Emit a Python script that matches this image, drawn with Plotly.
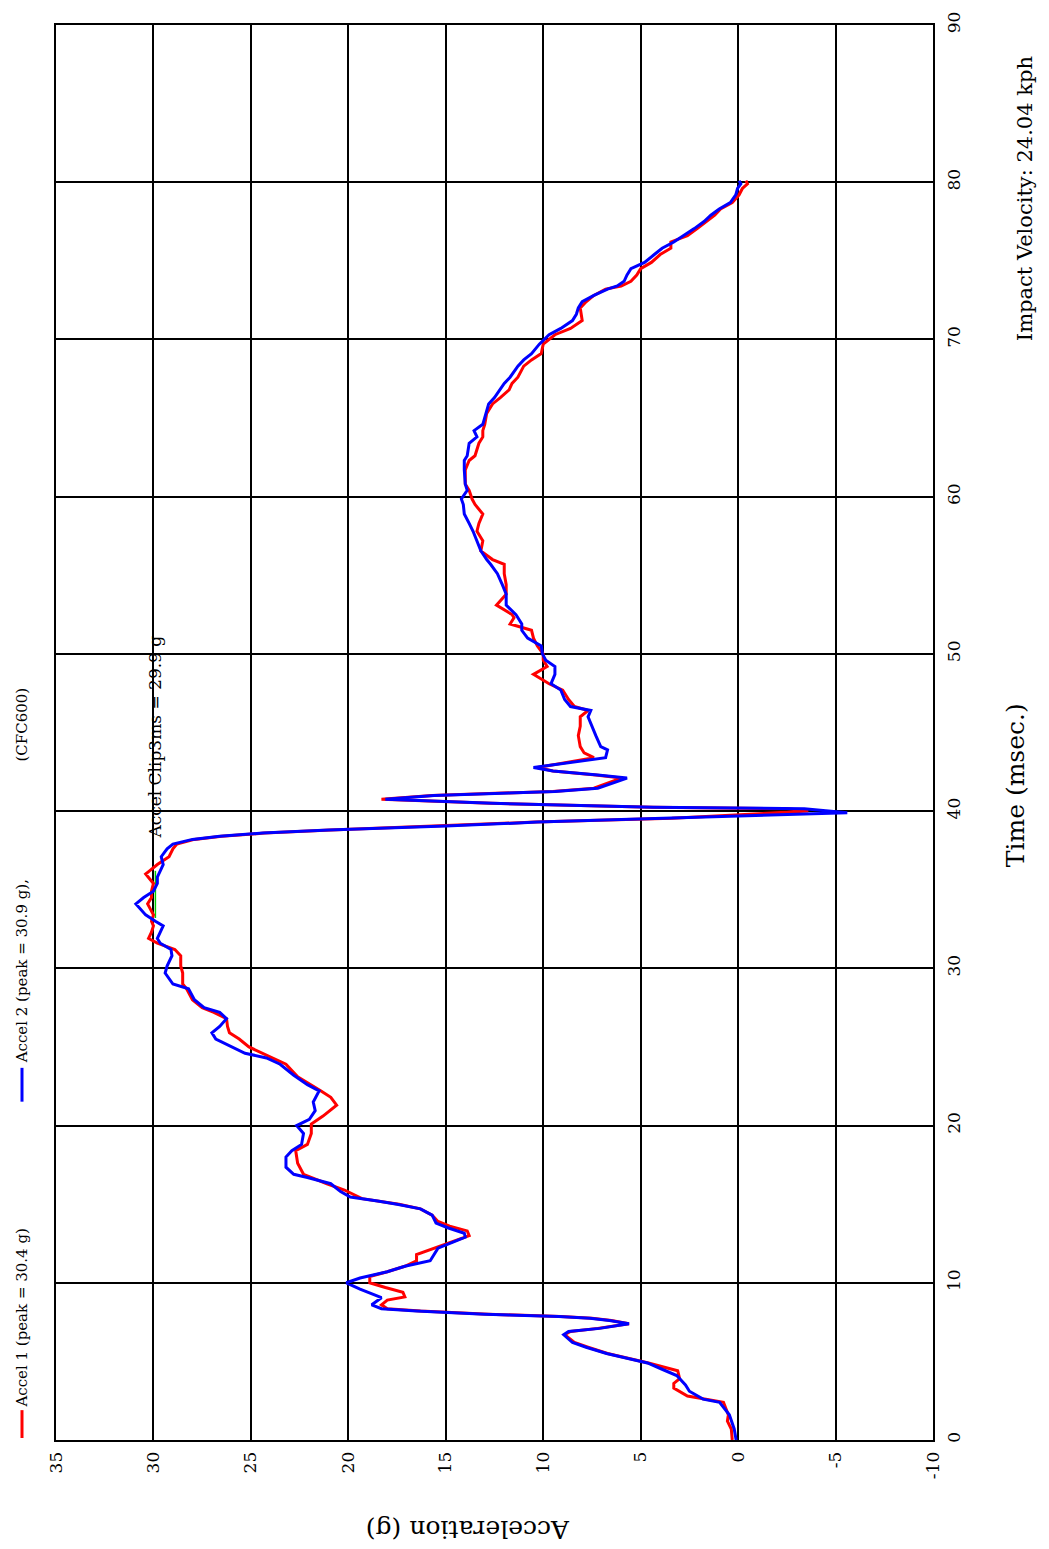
import plotly.graph_objects as go

# ---- data (time in msec, acceleration in g) ----
accel2_time = [0.0, 0.7, 1.6, 2.4, 2.6, 3.1, 3.5, 4.1, 4.5, 4.9, 5.2, 5.5, 5.9, 6.2, 6.7, 6.9, 7.1, 7.4, 7.6, 7.75,
               7.85, 8.0, 8.2, 8.35, 8.6, 9.05, 9.6, 10.0, 10.3, 10.7, 11.05, 11.4, 11.8, 12.2, 12.6, 12.9, 13.15,
               13.5, 13.8, 14.3, 14.7, 15.0, 15.2, 15.45, 15.8, 16.3, 16.7, 16.9, 17.35, 18.0, 18.4, 18.8, 19.5,
               20.0, 20.4, 20.95, 21.5, 22.2, 22.6, 23.2, 23.9, 24.3, 24.6, 25.1, 25.5, 25.9, 26.3, 26.8, 27.2,
               27.5, 28.0, 28.7, 29.0, 29.7, 30.15, 30.8, 31.2, 31.6, 31.9, 32.3, 32.7, 33.0, 33.4, 34.1, 34.5,
               34.9, 35.4, 35.8, 36.2, 36.6, 37.1, 37.6, 37.9, 38.2, 38.4, 38.6, 38.8, 39.05, 39.3, 39.55, 39.7,
               39.9, 40.15, 40.25, 40.5, 40.7, 40.76, 41.0, 41.25, 41.46, 42.1, 42.3, 42.55, 42.77, 43.1, 43.4,
               43.9, 44.1, 44.8, 45.4, 46.0, 46.4, 46.65, 47.1, 47.7, 48.1, 48.7, 49.2, 49.6, 50.0, 50.5, 51.0,
               51.5, 51.9, 52.5, 53.1, 53.8, 54.4, 55.1, 55.7, 56.0, 56.55, 57.2, 57.8, 58.3, 58.9, 59.5, 59.85,
               60.4, 60.8, 61.7, 62.3, 62.6, 63.4, 63.8, 64.2, 64.6, 65.3, 65.9, 66.3, 66.8, 67.2, 67.6, 68.3,
               68.7, 69.1, 69.7, 70.3, 70.7, 71.2, 71.6, 72.0, 72.4, 72.8, 73.2, 73.4, 73.7, 74.1, 74.5, 74.9,
               75.4, 75.8, 76.2, 76.6, 77.05, 77.5, 77.9, 78.3, 78.7, 79.2, 79.6, 79.9, 80.1]
accel2_g = [0.1, 0.2, 0.45, 0.95, 1.8, 2.5, 2.7, 3.15, 3.9, 4.65, 5.7, 6.75, 7.8, 8.5, 8.95, 8.7, 7.1, 5.6, 6.6, 7.6,
            9.2, 13.0, 16.5, 18.3, 18.8, 18.3, 19.4, 20.1, 19.4, 18.0, 17.1, 15.8, 15.6, 15.4, 14.6, 14.0, 14.05,
            14.9, 15.5, 15.7, 16.3, 17.5, 18.5, 19.9, 20.4, 20.9, 22.1, 22.8, 23.2, 23.2, 22.9, 22.4, 22.3,
            22.65, 22.0, 21.7, 21.8, 21.5, 22.1, 22.8, 23.5, 24.2, 25.3, 26.1, 26.8, 27.0, 26.6, 26.25, 26.6,
            27.4, 27.9, 28.2, 29.0, 29.4, 29.3, 29.05, 29.1, 29.65, 29.8, 29.65, 29.5, 29.9, 30.4, 30.9, 30.5,
            30.0, 29.8, 29.8, 29.65, 29.5, 29.6, 29.3, 29.0, 28.0, 26.6, 24.4, 21.0, 15.0, 10.3, 3.3, -0.2,
            -5.6, -3.4, 4.35, 12.6, 17.3, 18.1, 15.6, 9.4, 7.2, 5.7, 7.2, 9.5, 10.5, 8.6, 6.8,
            6.7, 7.05, 7.3, 7.5, 7.7, 7.56, 8.6, 8.9, 9.1, 9.6, 9.4, 9.4, 9.87, 10.04, 10.1, 10.8,
            11.1, 11.1, 11.4, 11.9, 11.9, 12.1, 12.35, 12.7, 12.9, 13.2, 13.4, 13.6, 13.8, 14.05, 14.1, 14.2,
            13.9, 14.0, 14.05, 14.05, 13.9, 13.8, 13.4, 13.55, 13.1, 12.95, 12.8, 12.5, 12.2, 12.0, 11.7, 11.3,
            11.0, 10.6, 10.2, 9.7, 9.1, 8.5, 8.3, 8.2, 8.0, 7.4, 6.7, 6.2, 5.85, 5.7, 5.5, 4.8,
            4.3, 3.9, 3.3, 2.8, 2.25, 1.75, 1.4, 0.97, 0.4, 0.12, 0.03, -0.14, -0.05]

accel1_time = [0.0, 0.7, 1.2, 1.6, 2.4, 2.8, 3.3, 3.6, 3.9, 4.4, 4.9, 5.2, 5.5, 5.9, 6.2, 6.7, 6.9, 7.1, 7.4, 7.6,
               7.75, 7.85, 8.0, 8.2, 8.35, 8.6, 8.9, 9.1, 9.4, 9.7, 10.0, 10.4, 10.7, 11.05, 11.4, 11.8, 12.2,
               12.6, 13.0, 13.3, 13.6, 13.9, 14.3, 14.7, 15.0, 15.35, 15.9, 16.3, 16.9, 17.6, 18.4, 18.8, 19.5,
               20.1, 20.6, 21.3, 21.8, 22.2, 23.1, 23.9, 24.3, 25.0, 25.5, 25.9, 26.3, 26.8, 27.2, 27.5, 28.0,
               28.7, 29.0, 29.7, 30.15, 30.8, 31.2, 31.6, 31.9, 32.3, 32.7, 33.0, 33.4, 34.1, 34.5, 34.9, 35.4,
               35.8, 36.0, 36.2, 36.6, 37.1, 37.6, 37.9, 38.2, 38.4, 38.6, 38.8, 39.05, 39.3, 39.55, 39.8, 40.0,
               40.15, 40.25, 40.5, 40.7, 40.76, 41.0, 41.25, 41.46, 42.1, 42.3, 42.55, 42.77, 43.1, 43.4, 43.7,
               44.1, 44.8, 45.4, 46.0, 46.4, 46.65, 47.1, 47.7, 48.1, 48.7, 49.2, 49.6, 50.0, 50.5, 51.0, 51.5,
               51.9, 52.3, 52.5, 53.1, 53.8, 54.4, 55.1, 55.7, 56.0, 56.55, 57.2, 57.8, 58.3, 58.9, 59.5, 59.85,
               60.4, 60.8, 61.7, 62.3, 62.6, 63.4, 63.8, 64.2, 64.6, 65.3, 65.9, 66.3, 66.8, 67.2, 67.6, 68.3,
               68.7, 69.1, 69.7, 70.3, 70.7, 71.2, 71.6, 72.0, 72.4, 72.8, 73.2, 73.4, 73.7, 74.1, 74.5, 74.9,
               75.4, 75.8, 76.2, 76.6, 77.05, 77.5, 77.9, 78.3, 78.7, 79.2, 79.6, 79.9, 80.1]
accel1_g = [0.3, 0.35, 0.55, 0.5, 0.75, 2.6, 3.3, 3.3, 3.0, 3.1, 4.6, 5.6, 6.7, 7.7, 8.4, 8.9, 8.6, 7.2, 5.6, 6.5,
            7.5, 9.1, 12.8, 16.3, 18.0, 18.3, 18.0, 17.1, 17.2, 18.1, 18.9, 18.9, 18.0, 17.1, 16.5, 16.5, 15.6,
            14.8, 13.8, 13.9, 14.8, 15.4, 15.7, 16.3, 17.4, 19.3, 20.2, 21.1, 22.3, 22.6, 22.7, 22.1, 21.9,
            21.9, 21.3, 20.6, 20.9, 21.4, 22.6, 23.2, 23.9, 25.1, 25.6, 26.1, 26.2, 26.25, 26.9, 27.5, 28.0,
            28.3, 28.5, 28.5, 28.6, 28.6, 28.9, 29.8, 30.25, 30.1, 30.0, 30.1, 30.0, 30.3, 30.1, 30.1, 30.0,
            30.3, 30.4, 30.2, 29.8, 29.2, 29.0, 28.8, 27.9, 26.5, 24.3, 20.9, 15.1, 10.4, 3.4, -0.5, -3.6,
            -2.5, 4.4, 12.7, 17.4, 18.3, 15.7, 9.5, 7.4, 6.0, 7.3, 9.5, 10.3, 8.7, 7.4, 7.9,
            8.1, 8.2, 8.1, 8.1, 7.7, 8.4, 8.7, 9.0, 9.7, 10.5, 9.8, 10.0, 10.0, 10.3, 10.5, 10.6,
            11.7, 11.5, 11.6, 12.4, 11.9, 11.9, 12.0, 12.0, 12.6, 13.2, 13.1, 13.4, 13.3, 13.1, 13.5, 13.65,
            13.8, 14.0, 14.0, 13.8, 13.5, 13.3, 13.1, 13.1, 13.0, 12.9, 12.6, 12.2, 11.75, 11.6, 11.3, 11.0,
            10.6, 10.1, 10.0, 9.4, 8.6, 8.0, 8.05, 8.1, 7.8, 7.4, 6.8, 6.0, 5.5, 5.2, 5.0, 4.45,
            4.0, 3.45, 3.45, 2.6, 2.1, 1.6, 1.2, 0.9, 0.3, -0.05, -0.22, -0.48, -0.4]

clip_value = 29.9
clip_window = [33.2, 36.2]

accel_ticks = [35, 30, 25, 20, 15, 10, 5, 0, -5, -10]
time_ticks = [0, 10, 20, 30, 40, 50, 60, 70, 80, 90]

legend_texts = ["Accel 1 (peak = 30.4 g)", "Accel 2 (peak = 30.9 g),", "(CFC600)"]
x_title = "Acceleration (g)"
y_title = "Time (msec.)"
impact_text = "Impact Velocity: 24.04 kph"
clip_text = "Accel Clip3ms = 29.9 g"

FONT = "DejaVu Serif"

fig = go.Figure()
fig.add_trace(go.Scatter(x=[clip_value, clip_value], y=clip_window, mode="lines",
                         line=dict(color="#00cc00", width=1.5), showlegend=False, hoverinfo="skip"))
fig.add_trace(go.Scatter(x=accel1_g, y=accel1_time, mode="lines",
                         line=dict(color="#ff0000", width=3), name="Accel 1", showlegend=False))
fig.add_trace(go.Scatter(x=accel2_g, y=accel2_time, mode="lines",
                         line=dict(color="#0000ff", width=3), name="Accel 2", showlegend=False))

fig.update_layout(
    width=1049, height=1549,
    margin=dict(l=56, r=116, t=18, b=109),
    paper_bgcolor="white", plot_bgcolor="white",
    font=dict(family=FONT, color="black"),
    xaxis=dict(range=[35, -10], tickvals=accel_ticks, ticktext=[str(v) for v in accel_ticks],
               tickangle=-90, tickfont=dict(size=17, family=FONT, color="black"),
               showgrid=True, gridcolor="black", gridwidth=1.5, zeroline=False,
               showline=True, linecolor="black", linewidth=2, mirror=True, ticks="",
               ticklabelstandoff=3),
    yaxis=dict(range=[0, 90], tickvals=time_ticks, ticktext=[str(v) for v in time_ticks],
               side="right", tickangle=-90, tickfont=dict(size=17, family=FONT, color="black"),
               showgrid=True, gridcolor="black", gridwidth=1.5, zeroline=False,
               showline=True, linecolor="black", linewidth=2, mirror=True, ticks="",
               ticklabelstandoff=5),
)

PW, PH, X0, Y1 = 877.0, 1422.0, 56.0, 1440.0


def px(x):
    return (x - X0) / PW


def py(y):
    return (Y1 - y) / PH


def note(text, x, y, angle, size, xref="paper", yref="paper"):
    return dict(text=text, x=x, y=y, xref=xref, yref=yref, showarrow=False,
                xanchor="center", yanchor="middle", textangle=angle,
                font=dict(size=size, family=FONT, color="black"))


ann = [
    note(x_title, px(468), py(1530), 180, 25),
    note(y_title, px(1015), py(782), -90, 25),
    note(impact_text, px(1025), py(193), -90, 21),
]
leg_centers = [1318, 969, 721]
for t, c in zip(legend_texts, leg_centers):
    ann.append(note(t, px(22), py(c), -90, 15))
ann.append(note(clip_text, clip_value, 44.7, -90, 17, xref="x", yref="y"))
fig.update_layout(annotations=ann)

fig.add_shape(type="line", xref="paper", yref="paper", x0=px(22), x1=px(22), y0=py(1438), y1=py(1410),
              line=dict(color="#ff0000", width=3))
fig.add_shape(type="line", xref="paper", yref="paper", x0=px(22), x1=px(22), y0=py(1100), y1=py(1066),
              line=dict(color="#0000ff", width=3))

fig.write_html("out.html")
